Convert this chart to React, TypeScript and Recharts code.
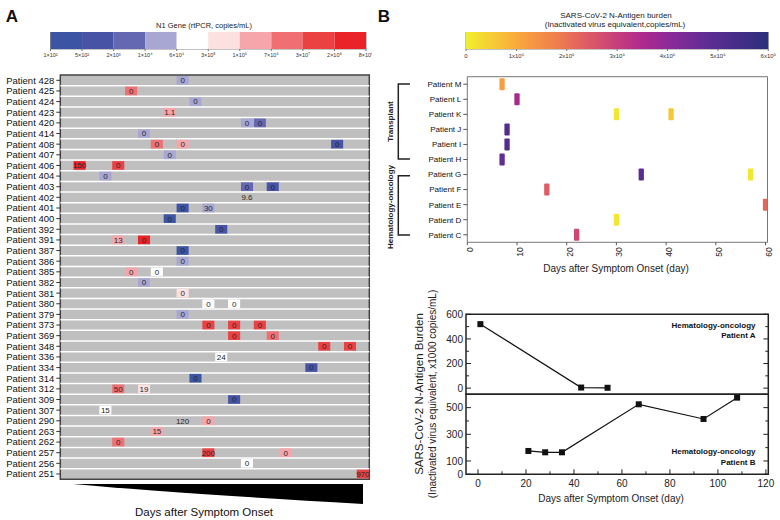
import React from "react";
import {
  BarChart,
  Bar,
  XAxis,
  YAxis,
  ScatterChart,
  Scatter,
  LineChart,
  Line,
  ReferenceArea,
  ReferenceLine,
} from "recharts";

const FONT = "'Liberation Sans', Arial, Helvetica, sans-serif";

// ---------- Panel A: rtPCR N1 gene ----------
const rtPatients = [
  "428", "425", "424", "423", "420", "414", "408", "407", "406", "404",
  "403", "402", "401", "400", "392", "391", "387", "386", "385", "382",
  "381", "380", "379", "373", "369", "348", "336", "334", "314", "312",
  "309", "307", "290", "263", "262", "257", "256", "251",
];

// [patient, sampling slot, N1 copies/mL (null = no colour), printed value]
const rtSamples: [string, number, number | null, string][] = [
  ["428", 9, 3e4, "0"],
  ["425", 5, 1e7, "0"],
  ["424", 10, 3e4, "0"],
  ["423", 8, 3e6, "1.1"],
  ["420", 14, 3e4, "0"],
  ["420", 15, 5e3, "0"],
  ["414", 6, 3e4, "0"],
  ["408", 7, 1e7, "0"],
  ["408", 9, 3e6, "0"],
  ["408", 21, 1e3, "0"],
  ["407", 8, 3e4, "0"],
  ["406", 1, 5e8, "150"],
  ["406", 4, 1e8, "0"],
  ["404", 3, 3e4, "0"],
  ["403", 14, 5e3, "0"],
  ["403", 16, 1e3, "0"],
  ["402", 14, null, "9.6"],
  ["401", 9, 3e2, "0"],
  ["401", 11, 3e4, "30"],
  ["400", 8, 3e2, "0"],
  ["392", 12, 1e3, "0"],
  ["391", 4, 3e6, "13"],
  ["391", 6, 5e8, "0"],
  ["387", 9, 3e2, "0"],
  ["386", 9, 3e4, "0"],
  ["385", 5, 3e6, "0"],
  ["385", 7, 1e5, "0"],
  ["382", 6, 3e4, "0"],
  ["381", 9, 5e5, "0"],
  ["380", 11, 1e5, "0"],
  ["380", 13, 1e5, "0"],
  ["379", 9, 3e4, "0"],
  ["373", 11, 1e8, "0"],
  ["373", 13, 1e8, "0"],
  ["373", 15, 1e8, "0"],
  ["369", 13, 1e8, "0"],
  ["369", 16, 1e7, "0"],
  ["348", 20, 1e8, "0"],
  ["348", 22, 1e8, "0"],
  ["336", 12, 1e5, "24"],
  ["334", 19, 1e3, "0"],
  ["314", 10, 3e2, "0"],
  ["312", 4, 1e7, "50"],
  ["312", 6, 5e5, "19"],
  ["309", 13, 1e3, "0"],
  ["307", 3, 1e5, "15"],
  ["290", 9, null, "120"],
  ["290", 11, 3e6, "0"],
  ["263", 7, 3e6, "15"],
  ["262", 4, 1e7, "0"],
  ["257", 11, 1e8, "200"],
  ["257", 17, 3e6, "0"],
  ["256", 14, 1e5, "0"],
  ["251", 23, 1e8, "970"],
];

const n1TickValues = [1e2, 5e2, 2e3, 1e4, 6e4, 3e5, 1e6, 7e6, 3e7, 2e8, 8e8];
const n1TickLabels = [
  "1×10²", "5×10²", "2×10³", "1×10⁴", "6×10⁴", "3×10⁵",
  "1×10⁶", "7×10⁶", "3×10⁷", "2×10⁸", "8×10⁸",
];

// ---------- Panel B top: N-antigen per patient ----------
const agPatients = ["M", "L", "K", "J", "I", "H", "G", "F", "E", "D", "C"];
// [patient, day after onset, antigen burden copies/mL]
const agSamples: [string, number, number][] = [
  ["M", 7, 1.2e5],
  ["L", 10, 3.6e5],
  ["K", 30, 0.1e5],
  ["K", 41, 0.6e5],
  ["J", 8, 5.1e5],
  ["I", 8, 5.1e5],
  ["H", 7, 4.7e5],
  ["G", 35, 4.9e5],
  ["G", 57, 0.1e5],
  ["F", 16, 2.4e5],
  ["E", 60, 2.2e5],
  ["D", 30, 0.1e5],
  ["C", 22, 2.8e5],
];
const agTicks = [0, 1e5, 2e5, 3e5, 4e5, 5e5, 6e5];
const agTickLabels = ["0", "1x10⁵", "2x10⁵", "3x10⁵", "4x10⁵", "5x10⁵", "6x10⁵"];
const agDayTicks = [0, 10, 20, 30, 40, 50, 60];

// ---------- Panel B bottom: time courses (x1000 copies/mL) ----------
const patientADays = [1, 43, 54];
const patientABurden = [520, 5, 3];
const patientBDays = [21, 28, 35, 67, 94, 108];
const patientBBurden = [175, 165, 165, 525, 415, 575];
const courseDayTicks = [0, 10, 20, 30, 40, 50, 60, 70, 80, 90, 100, 110, 120];
const courseATicks = [0, 100, 200, 300, 400, 500, 600];
const courseBTicks = [0, 100, 200, 300, 400, 500];
const courseBLabels = [0, 100, 300, 500];

// ---------- colours ----------
const n1Colors = [
  "#3b54a3", "#4754a6", "#6467b1", "#a8a7d4", "#ffffff",
  "#fde0e0", "#f6a6ab", "#f06f72", "#eb4143", "#ea2328",
];

function n1Color(copies: number) {
  let bin = 0;
  for (let i = 0; i < n1Colors.length; i++) if (copies >= n1TickValues[i]) bin = i;
  return n1Colors[bin];
}

const plasmaStops: [number, string][] = [
  [0, "#f1ef2e"],
  [0.08, "#f6cf33"],
  [0.17, "#f9a83c"],
  [0.3, "#f07e4c"],
  [0.4, "#de5c63"],
  [0.5, "#c63e7a"],
  [0.58, "#b02a8e"],
  [0.67, "#8c2a99"],
  [0.8, "#5e2c94"],
  [1, "#2c2f7c"],
];

function hexToRgb(h: string) {
  return [1, 3, 5].map((i) => parseInt(h.slice(i, i + 2), 16));
}

function plasma(value: number) {
  const t = Math.max(0, Math.min(1, value / agTicks[agTicks.length - 1]));
  for (let i = 1; i < plasmaStops.length; i++) {
    const [t1, c1] = plasmaStops[i];
    const [t0, c0] = plasmaStops[i - 1];
    if (t <= t1) {
      const f = (t - t0) / (t1 - t0);
      const a = hexToRgb(c0);
      const b = hexToRgb(c1);
      return `rgb(${a.map((v, k) => Math.round(v + (b[k] - v) * f)).join(",")})`;
    }
  }
  return plasmaStops[plasmaStops.length - 1][1];
}

// ---------- layout ----------
const A_W = 375;
const A_H = 490;
const A_TOP = 75;
const A_LEFT = 60.3;
const A_RIGHT = 5.7;
const A_BOTTOM = 10.7;
const A_COL = (A_W - A_LEFT - A_RIGHT) / 24;
const A_ROW = (A_H - A_TOP - A_BOTTOM) / rtPatients.length;

const C_PLOT_W = 302.3;

const heatData = rtSamples.map(([p, slot, copies, label]) => ({
  row: rtPatients.indexOf(p),
  slot,
  copies,
  label,
}));

const agData = agSamples.map(([p, day, burden]) => ({
  row: agPatients.indexOf(p),
  day,
  burden,
}));

const courseA = patientADays.map((d, i) => ({ day: d, burden: patientABurden[i] }));
const courseB = patientBDays.map((d, i) => ({ day: d, burden: patientBBurden[i] }));

const n1Row = [
  Object.fromEntries([["name", "n1"], ...n1Colors.map((_, i) => [`s${i}`, 1])]),
];
const agRow = [{ name: "ag", max: agTicks[agTicks.length - 1] }];

// ---------- shapes & ticks ----------
function HeatCell(props: any) {
  const { cx, cy, payload } = props;
  return (
    <g>
      {payload.copies != null && (
        <rect
          x={cx - A_COL / 2 + 0.4}
          y={cy - A_ROW / 2 + 1}
          width={A_COL - 0.8}
          height={A_ROW - 2}
          fill={n1Color(payload.copies)}
        />
      )}
      <text
        x={cx}
        y={cy}
        dy="0.36em"
        textAnchor="middle"
        fontSize={8}
        fontFamily={FONT}
        fill="#262626"
      >
        {payload.label}
      </text>
    </g>
  );
}

function makePatientTick(names: string[], size: number) {
  return function PatientTick(props: any) {
    const { x, y, payload } = props;
    return (
      <text
        x={x}
        y={y}
        dy="0.36em"
        textAnchor="end"
        fontSize={size}
        fontFamily={FONT}
        fill="#111"
      >
        {`Patient ${names[payload.value]}`}
      </text>
    );
  };
}

const RtPatientTick = makePatientTick(rtPatients, 9.5);
const AgPatientTick = makePatientTick(agPatients, 8);

function AgMark(props: any) {
  const { cx, cy, payload } = props;
  return <rect x={cx - 2.65} y={cy - 6} width={5.3} height={12} rx={1} fill={plasma(payload.burden)} />;
}

function SquareDot(props: any) {
  const { cx, cy, index } = props;
  return <rect key={index} x={cx - 3} y={cy - 3} width={6} height={6} fill="#111" />;
}

function makeBurdenTick(labels: number[]) {
  return function BurdenTick(props: any) {
    const { x, y, payload } = props;
    const v = payload.value;
    const major = labels.includes(v);
    const len = major ? 5 : 3;
    return (
      <g>
        <line x1={x} y1={y} x2={x + len} y2={y} stroke="#222" />
        <line x1={x + C_PLOT_W} y1={y} x2={x + C_PLOT_W - len} y2={y} stroke="#222" />
        {major && (
          <text x={x - 3} y={y} dy="0.36em" textAnchor="end" fontSize={10} fontFamily={FONT} fill="#222">
            {v}
          </text>
        )}
      </g>
    );
  };
}

function makeDayTick(withLabel: boolean) {
  return function DayTick(props: any) {
    const { x, y, payload } = props;
    const v = payload.value;
    const major = v % 20 === 0;
    const len = major ? 5 : 3;
    return (
      <g>
        <line x1={x} y1={y} x2={x} y2={y - len} stroke="#222" />
        {withLabel && major && (
          <text x={x} y={y + 13} textAnchor="middle" fontSize={10} fontFamily={FONT} fill="#222">
            {v}
          </text>
        )}
      </g>
    );
  };
}

const TopBurdenTick = makeBurdenTick([0, 200, 400, 600]);
const BottomBurdenTick = makeBurdenTick(courseBLabels);
const BoundaryDayTick = makeDayTick(false);
const BottomDayTick = makeDayTick(true);

const abs = (left: number, top: number): React.CSSProperties => ({ position: "absolute", left, top });

export default function App() {
  return (
    <div
      style={{
        position: "relative",
        width: 780,
        height: 520,
        background: "#fff",
        fontFamily: FONT,
        overflow: "hidden",
      }}
    >
      <style>{"body{margin:0}"}</style>

      {/* A colour scale */}
      <div style={abs(0, 32)}>
        <BarChart
          layout="vertical"
          width={372}
          height={30}
          data={n1Row}
          margin={{ top: 0, right: 6, bottom: 0, left: 50.5 }}
          barCategoryGap={0}
        >
          <XAxis
            type="number"
            domain={[0, 10]}
            ticks={n1TickValues.map((_, i) => i)}
            interval={0}
            tickFormatter={(v: number) => n1TickLabels[v]}
            tick={{ fontSize: 5.5, fill: "#333", fontFamily: FONT }}
            tickSize={2}
            tickMargin={2}
            tickLine={{ stroke: "#777" }}
            axisLine={false}
            height={13}
            allowDataOverflow
          />
          <YAxis type="category" dataKey="name" hide width={0} />
          {n1Colors.map((c, i) => (
            <Bar key={i} dataKey={`s${i}`} stackId="n1" fill={c} isAnimationActive={false} />
          ))}
          <ReferenceArea x1={0} x2={10} fill="none" stroke="#888" />
        </BarChart>
      </div>

      {/* A heat map */}
      <div style={abs(0, 0)}>
        <ScatterChart
          width={A_W}
          height={A_H}
          margin={{ top: A_TOP, right: A_RIGHT, bottom: A_BOTTOM, left: 0 }}
        >
          <XAxis type="number" dataKey="slot" domain={[-0.5, 23.5]} hide height={0} allowDataOverflow />
          <YAxis
            type="number"
            dataKey="row"
            domain={[-0.5, rtPatients.length - 0.5]}
            reversed
            allowDataOverflow
            width={A_LEFT}
            ticks={rtPatients.map((_, i) => i)}
            interval={0}
            tick={RtPatientTick}
            tickLine={{ stroke: "#333" }}
            tickSize={4}
            tickMargin={2}
            axisLine={false}
          />
          <ReferenceArea
            x1={-0.5}
            x2={23.5}
            y1={-0.5}
            y2={rtPatients.length - 0.5}
            fill="#bfbfbf"
            fillOpacity={1}
            stroke="none"
          />
          {rtPatients.slice(1).map((_, i) => (
            <ReferenceLine key={i} y={i + 0.5} stroke="#ffffff" strokeWidth={1.5} />
          ))}
          <Scatter data={heatData} shape={HeatCell} isAnimationActive={false} />
          <ReferenceArea
            x1={-0.5}
            x2={23.5}
            y1={-0.5}
            y2={rtPatients.length - 0.5}
            fill="none"
            stroke="#444"
            strokeWidth={1.5}
          />
        </ScatterChart>
      </div>

      {/* B colour scale */}
      <div style={abs(390, 32)}>
        <BarChart
          layout="vertical"
          width={390}
          height={32}
          data={agRow}
          margin={{ top: 0, right: 11.7, bottom: 0, left: 76 }}
          barCategoryGap={0}
        >
          <defs>
            <linearGradient id="plasmaGrad" x1="0" y1="0" x2="1" y2="0">
              {plasmaStops.map(([o, c]) => (
                <stop key={o} offset={`${o * 100}%`} stopColor={c} />
              ))}
            </linearGradient>
          </defs>
          <XAxis
            type="number"
            domain={[0, agTicks[agTicks.length - 1]]}
            ticks={agTicks}
            interval={0}
            tickFormatter={(v: number) => agTickLabels[agTicks.indexOf(v)]}
            tick={{ fontSize: 6, fill: "#333", fontFamily: FONT }}
            tickSize={2}
            tickMargin={3}
            tickLine={{ stroke: "#777" }}
            axisLine={false}
            height={15}
            allowDataOverflow
          />
          <YAxis type="category" dataKey="name" hide width={0} />
          <Bar dataKey="max" fill="url(#plasmaGrad)" isAnimationActive={false} />
          <ReferenceArea x1={0} x2={agTicks[agTicks.length - 1]} fill="none" stroke="#888" />
        </BarChart>
      </div>

      {/* B antigen per patient */}
      <div style={abs(390, 60)}>
        <ScatterChart width={390} height={220} margin={{ top: 16.7, right: 12.5, bottom: 17.7, left: 0 }}>
          <XAxis
            type="number"
            dataKey="day"
            domain={[0, 60.4]}
            allowDataOverflow
            ticks={agDayTicks}
            interval={0}
            tick={{
              angle: -90,
              textAnchor: "end",
              verticalAnchor: "middle",
              fontSize: 8.5,
              fill: "#222",
              fontFamily: FONT,
            } as any}
            tickSize={3}
            tickMargin={2}
            tickLine={{ stroke: "#555" }}
            axisLine={false}
            height={20}
          />
          <YAxis
            type="number"
            dataKey="row"
            domain={[-0.5, agPatients.length - 0.5]}
            reversed
            allowDataOverflow
            width={77.3}
            ticks={agPatients.map((_, i) => i)}
            interval={0}
            tick={AgPatientTick}
            tickLine={{ stroke: "#555" }}
            tickSize={4}
            tickMargin={2}
            axisLine={false}
          />
          <Scatter data={agData} shape={AgMark} isAnimationActive={false} />
          <ReferenceArea
            x1={0}
            x2={60.4}
            y1={-0.5}
            y2={agPatients.length - 0.5}
            fill="none"
            stroke="#777"
          />
        </ScatterChart>
      </div>

      {/* B patient A course */}
      <div style={abs(390, 300)}>
        <LineChart width={390} height={100} data={courseA} margin={{ top: 14.3, right: 11.7, bottom: 5.7, left: 0 }}>
          <XAxis
            type="number"
            dataKey="day"
            domain={[-5, 121]}
            allowDataOverflow
            ticks={courseDayTicks}
            interval={0}
            tick={BoundaryDayTick}
            tickSize={0}
            tickMargin={0}
            tickLine={false}
            axisLine={false}
            height={0}
          />
          <YAxis
            type="number"
            domain={[-50, 600]}
            allowDataOverflow
            ticks={courseATicks}
            interval={0}
            tick={TopBurdenTick}
            tickSize={0}
            tickMargin={0}
            tickLine={false}
            axisLine={false}
            width={76}
          />
          <Line
            type="linear"
            dataKey="burden"
            stroke="#111"
            strokeWidth={1.2}
            dot={SquareDot}
            isAnimationActive={false}
          />
          <ReferenceArea x1={-5} x2={121} y1={-50} y2={600} fill="none" stroke="#222" strokeWidth={1.5} />
        </LineChart>
      </div>

      {/* B patient B course */}
      <div style={abs(390, 390)}>
        <LineChart width={390} height={130} data={courseB} margin={{ top: 4.3, right: 11.7, bottom: 15.7, left: 0 }}>
          <XAxis
            type="number"
            dataKey="day"
            domain={[-5, 121]}
            allowDataOverflow
            ticks={courseDayTicks}
            interval={0}
            tick={BottomDayTick}
            tickSize={0}
            tickMargin={0}
            tickLine={false}
            axisLine={false}
            height={30}
          />
          <YAxis
            type="number"
            domain={[0, 600]}
            allowDataOverflow
            ticks={courseBTicks}
            interval={0}
            tick={BottomBurdenTick}
            tickSize={0}
            tickMargin={0}
            tickLine={false}
            axisLine={false}
            width={76}
          />
          <Line
            type="linear"
            dataKey="burden"
            stroke="#111"
            strokeWidth={1.2}
            dot={SquareDot}
            isAnimationActive={false}
          />
          <ReferenceArea x1={-5} x2={121} y1={0} y2={600} fill="none" stroke="#222" strokeWidth={1.5} />
        </LineChart>
      </div>

      {/* annotations */}
      <svg
        width={780}
        height={520}
        style={{ position: "absolute", left: 0, top: 0, pointerEvents: "none" }}
        fontFamily={FONT}
      >
        <text x={12} y={16} dominantBaseline="central" textAnchor="middle" fontSize={17} fontWeight="bold" fill="#111">
          A
        </text>
        <text x={384} y={16} dominantBaseline="central" textAnchor="middle" fontSize={17} fontWeight="bold" fill="#111">
          B
        </text>

        <text x={204} y={25} dominantBaseline="central" textAnchor="middle" fontSize={7.5} fill="#222">
          N1 Gene (rtPCR, copies/mL)
        </text>
        <text x={616} y={15} dominantBaseline="central" textAnchor="middle" fontSize={8} fill="#222">
          SARS-CoV-2 N-Antigen burden
        </text>
        <text x={615} y={24} dominantBaseline="central" textAnchor="middle" fontSize={8} fill="#222">
          (Inactivated virus equivalent,copies/mL)
        </text>

        {/* wedge under panel A */}
        <path d="M73,484 L363,484 L363,504 Q170,493 73,484 Z" fill="#000" />
        <text x={204} y={512} dominantBaseline="central" textAnchor="middle" fontSize={11.5} fill="#111">
          Days after Symptom Onset
        </text>

        {/* brackets */}
        <path d="M410,84 H398.3 V159 H410" fill="none" stroke="#222" strokeWidth={1.5} />
        <path d="M410,175.7 H398.3 V235 H410" fill="none" stroke="#222" strokeWidth={1.5} />
        <text
          x={390}
          y={121.5}
          transform="rotate(-90, 390, 121.5)"
          dominantBaseline="central"
          textAnchor="middle"
          fontSize={8}
          fontWeight="bold"
          fill="#222"
        >
          Transplant
        </text>
        <text
          x={390}
          y={207}
          transform="rotate(-90, 390, 207)"
          dominantBaseline="central"
          textAnchor="middle"
          fontSize={8}
          fontWeight="bold"
          fill="#222"
        >
          Hematology-oncology
        </text>
        <text x={616} y={268} dominantBaseline="central" textAnchor="middle" fontSize={10} fill="#222">
          Days after Symptom Onset (day)
        </text>

        {/* time-course labels */}
        <text x={755.5} y={325} dominantBaseline="central" textAnchor="end" fontSize={8} fontWeight="bold" fill="#111">
          Hematology-oncology
        </text>
        <text x={755.5} y={335} dominantBaseline="central" textAnchor="end" fontSize={8} fontWeight="bold" fill="#111">
          Patient A
        </text>
        <text x={755.5} y={451.7} dominantBaseline="central" textAnchor="end" fontSize={8} fontWeight="bold" fill="#111">
          Hematology-oncology
        </text>
        <text x={755.5} y={462.3} dominantBaseline="central" textAnchor="end" fontSize={8} fontWeight="bold" fill="#111">
          Patient B
        </text>
        <text
          x={419.3}
          y={394}
          transform="rotate(-90, 419.3, 394)"
          dominantBaseline="central"
          textAnchor="middle"
          fontSize={11.5}
          fill="#222"
        >
          SARS-CoV-2 N-Antigen Burden
        </text>
        <text
          x={432.7}
          y={394}
          transform="rotate(-90, 432.7, 394)"
          dominantBaseline="central"
          textAnchor="middle"
          fontSize={10}
          fill="#222"
        >
          (Inactivated virus equivalent, x1000 copies/mL)
        </text>
        <text x={611} y={498.3} dominantBaseline="central" textAnchor="middle" fontSize={10} fill="#222">
          Days after Symptom Onset (day)
        </text>
      </svg>
    </div>
  );
}
